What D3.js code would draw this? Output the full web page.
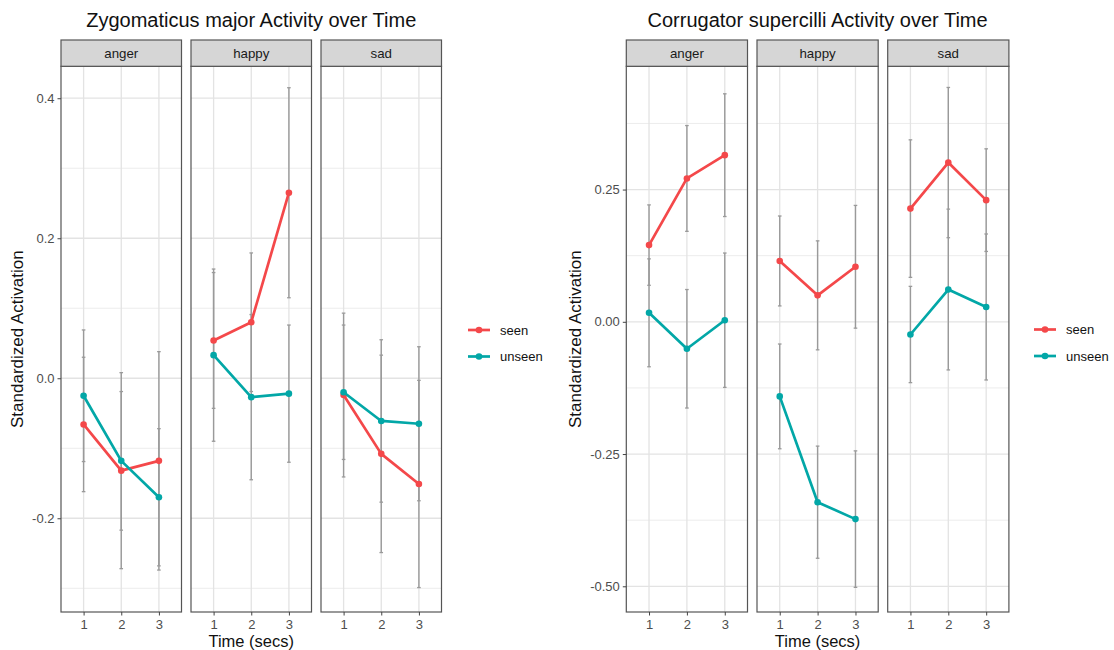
<!DOCTYPE html>
<html><head><meta charset="utf-8">
<script src="https://cdn.jsdelivr.net/npm/d3@7"></script>
<style>
body{margin:0;background:#fff;}
svg{display:block;font-family:"Liberation Sans",Arial,sans-serif;}
</style></head>
<body>
<svg id="chart" width="1114" height="650"></svg>
<script>
// ---------- DATA ----------
const times = [1, 2, 3];
const emotions = ["anger", "happy", "sad"];
const groups = ["seen", "unseen"];

// Zygomaticus major: means and error half-widths [emotion][time]
const zygSeenMean   = [[-0.066, -0.132, -0.118], [0.054, 0.080, 0.265], [-0.024, -0.108, -0.151]];
const zygSeenErr    = [[0.096, 0.140, 0.156], [0.097, 0.099, 0.150], [0.117, 0.141, 0.148]];
const zygUnseenMean = [[-0.025, -0.118, -0.170], [0.033, -0.027, -0.022], [-0.020, -0.061, -0.065]];
const zygUnseenErr  = [[0.094, 0.099, 0.098], [0.123, 0.118, 0.098], [0.096, 0.116, 0.110]];
const zygTicks = [0.4, 0.2, 0.0, -0.2];
const zygTickLabels = ["0.4", "0.2", "0.0", "-0.2"];
const zygMinor = [0.3, 0.1, -0.1, -0.3];

// Corrugator supercilli
const corSeenMean   = [[0.145, 0.271, 0.315], [0.115, 0.050, 0.104], [0.214, 0.301, 0.230]];
const corSeenErr    = [[0.076, 0.100, 0.116], [0.085, 0.103, 0.116], [0.130, 0.142, 0.097]];
const corUnseenMean = [[0.017, -0.051, 0.003], [-0.141, -0.341, -0.373], [-0.024, 0.061, 0.028]];
const corUnseenErr  = [[0.102, 0.112, 0.127], [0.099, 0.106, 0.129], [0.091, 0.152, 0.138]];
const corTicks = [0.25, 0.0, -0.25, -0.5];
const corTickLabels = ["0.25", "0.00", "-0.25", "-0.50"];
const corMinor = [0.375, 0.125, -0.125, -0.375];

const titles = ["Zygomaticus major Activity over Time", "Corrugator supercilli Activity over Time"];
const yTitle = "Standardized Activation";
const xTitle = "Time (secs)";

// ---------- STYLE ----------
const colors = {seen: "#F4484A", unseen: "#02A7A7"};
const svg = d3.select("#chart");

function drawChart(cfg) {
  const g = svg.append("g");
  const {left, panelW, gap, top, stripH, bottom, domain} = cfg;
  const y = d3.scaleLinear().domain(domain).range([bottom, top + stripH]);
  const means = {seen: cfg.seenMean, unseen: cfg.unseenMean};
  const errs = {seen: cfg.seenErr, unseen: cfg.unseenErr};

  emotions.forEach((emo, ei) => {
    const px = left + ei * (panelW + gap);
    const x = d3.scaleLinear().domain([0.4, 3.6]).range([px, px + panelW]);
    const pg = g.append("g");
    pg.append("rect").attr("x", px).attr("y", top + stripH).attr("width", panelW)
      .attr("height", bottom - top - stripH).attr("fill", "#fff");
    // minor grid
    pg.selectAll(".minor").data(cfg.minor).enter().append("line")
      .attr("x1", px).attr("x2", px + panelW)
      .attr("y1", d => y(d)).attr("y2", d => y(d))
      .attr("stroke", "#ECECEC").attr("stroke-width", 1);
    // major grid
    pg.selectAll(".major").data(cfg.ticks).enter().append("line")
      .attr("x1", px).attr("x2", px + panelW)
      .attr("y1", d => y(d)).attr("y2", d => y(d))
      .attr("stroke", "#E3E3E3").attr("stroke-width", 1.3);
    pg.selectAll(".vmajor").data(times).enter().append("line")
      .attr("x1", d => x(d)).attr("x2", d => x(d))
      .attr("y1", top + stripH).attr("y2", bottom)
      .attr("stroke", "#E3E3E3").attr("stroke-width", 1.3);

    // error bars
    groups.forEach(gr => {
      times.forEach((t, ti) => {
        const m = means[gr][ei][ti], e = errs[gr][ei][ti];
        const xc = x(t);
        pg.append("line").attr("x1", xc).attr("x2", xc)
          .attr("y1", y(m + e)).attr("y2", y(m - e))
          .attr("stroke", "#9A9A9A").attr("stroke-width", 1.4);
        [m + e, m - e].forEach(v => {
          pg.append("line").attr("x1", xc - 1.8).attr("x2", xc + 1.8)
            .attr("y1", y(v)).attr("y2", y(v))
            .attr("stroke", "#9A9A9A").attr("stroke-width", 1.3);
        });
      });
    });
    // lines & points
    groups.forEach(gr => {
      const pts = times.map((t, ti) => [t, means[gr][ei][ti]]);
      pg.append("path").datum(pts)
        .attr("d", d3.line().x(d => x(d[0])).y(d => y(d[1])))
        .attr("fill", "none").attr("stroke", colors[gr]).attr("stroke-width", 2.7)
        .attr("stroke-linejoin", "round");
      pg.selectAll(".pt-" + gr).data(pts).enter().append("circle")
        .attr("cx", d => x(d[0])).attr("cy", d => y(d[1])).attr("r", 3.3)
        .attr("fill", colors[gr]);
    });

    // panel border
    pg.append("rect").attr("x", px).attr("y", top + stripH).attr("width", panelW)
      .attr("height", bottom - top - stripH).attr("fill", "none")
      .attr("stroke", "#555").attr("stroke-width", 1.2);
    // strip
    pg.append("rect").attr("x", px).attr("y", top).attr("width", panelW).attr("height", stripH)
      .attr("fill", "#D6D6D6").attr("stroke", "#555").attr("stroke-width", 1.2);
    pg.append("text").attr("x", px + panelW / 2).attr("y", top + stripH / 2 + 4.6)
      .attr("text-anchor", "middle").attr("font-size", 13.3).attr("fill", "#1A1A1A").text(emo);

    // x axis
    const xa = d3.axisBottom(x).tickValues(times).tickSize(3.5).tickPadding(4).tickFormat(d3.format("d"));
    const xg = pg.append("g").attr("transform", `translate(0,${bottom})`).call(xa);
    xg.select(".domain").remove();
    xg.selectAll(".tick line").attr("stroke", "#444");
    xg.selectAll(".tick text").attr("font-size", 13).attr("fill", "#4D4D4D")
      .attr("font-family", "Liberation Sans, Arial, sans-serif");
  });

  // y axis
  const ya = d3.axisLeft(y).tickValues(cfg.ticks).tickSize(3.5).tickPadding(3)
    .tickFormat((d, i) => cfg.tickLabels[i]);
  const yg = g.append("g").attr("transform", `translate(${left},0)`).call(ya);
  yg.select(".domain").remove();
  yg.selectAll(".tick line").attr("stroke", "#444");
  yg.selectAll(".tick text").attr("font-size", 13).attr("fill", "#4D4D4D")
    .attr("font-family", "Liberation Sans, Arial, sans-serif");

  const totalW = 3 * panelW + 2 * gap;
  g.append("text").attr("x", left + totalW / 2).attr("y", 27)
    .attr("text-anchor", "middle").attr("font-size", 20).attr("fill", "#111").text(cfg.title);
  g.append("text").attr("x", left + totalW / 2).attr("y", 647)
    .attr("text-anchor", "middle").attr("font-size", 16.5).attr("fill", "#111").text(xTitle);
  g.append("text").attr("transform", `translate(${cfg.yTitleX},${(top + stripH + bottom) / 2}) rotate(-90)`)
    .attr("text-anchor", "middle").attr("font-size", 17).attr("fill", "#111").text(yTitle);

  // legend
  groups.forEach((gr, i) => {
    const ly = cfg.legendY + i * 26.5;
    g.append("line").attr("x1", cfg.legendX).attr("x2", cfg.legendX + 22)
      .attr("y1", ly).attr("y2", ly).attr("stroke", colors[gr]).attr("stroke-width", 2.7);
    g.append("circle").attr("cx", cfg.legendX + 11).attr("cy", ly).attr("r", 3.3).attr("fill", colors[gr]);
    g.append("text").attr("x", cfg.legendX + 32).attr("y", ly + 4.6)
      .attr("font-size", 13).attr("fill", "#111").text(gr);
  });
}

drawChart({
  title: titles[0], left: 61, panelW: 120.5, gap: 9.5, top: 40, stripH: 26.3, bottom: 612,
  domain: [-0.3339, 0.4456], seenMean: zygSeenMean, seenErr: zygSeenErr,
  unseenMean: zygUnseenMean, unseenErr: zygUnseenErr,
  ticks: zygTicks, tickLabels: zygTickLabels, minor: zygMinor,
  yTitleX: 23, legendX: 468, legendY: 330
});
drawChart({
  title: titles[1], left: 626.3, panelW: 121.2, gap: 9.5, top: 40, stripH: 26.3, bottom: 612,
  domain: [-0.5486, 0.483], seenMean: corSeenMean, seenErr: corSeenErr,
  unseenMean: corUnseenMean, unseenErr: corUnseenErr,
  ticks: corTicks, tickLabels: corTickLabels, minor: corMinor,
  yTitleX: 581, legendX: 1034, legendY: 329.5
});
</script>
</body></html>
